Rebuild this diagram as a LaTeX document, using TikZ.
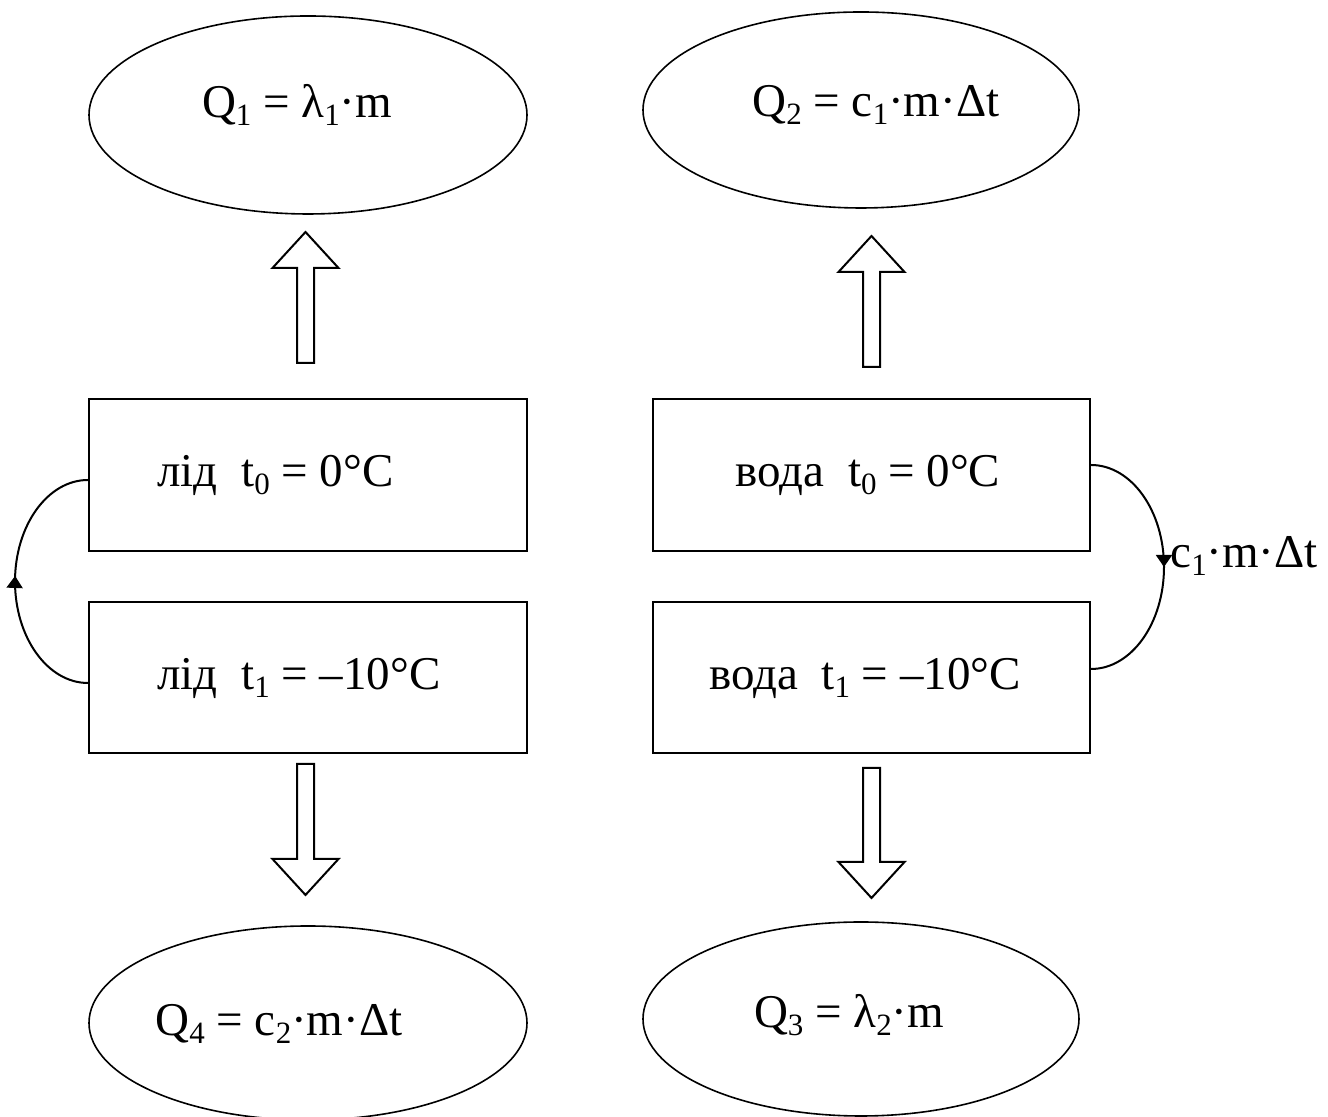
\documentclass[tikz,border=0pt]{standalone}
\usepackage{fontspec}
\setmainfont{Liberation Serif}
\usetikzlibrary{shapes.geometric,arrows.meta,decorations.markings}
\newcommand\subx[1]{\raisebox{-0.17em}{\fontsize{15.5}{16}\selectfont #1}}
\newcommand\blkarr[4]{% cx, ybase, yhead, ytip
  \draw[blk] (#1-8.5,#2) -- (#1-8.5,#3) -- (#1-33,#3) -- (#1,#4) -- (#1+33,#3) -- (#1+8.5,#3) -- (#1+8.5,#2) -- cycle;}
\begin{document}
\begin{tikzpicture}[x=0.5pt,y=0.5pt,
  font=\fontsize{23.5}{28}\selectfont,
  oval/.style={draw, ellipse, line width=0.8pt, inner sep=0pt},
  box/.style={draw, rectangle, line width=1pt, inner sep=0pt, minimum width=219pt, minimum height=76pt},
  txt/.style={inner sep=0pt, anchor=base},
  loopline/.style={line width=1pt, postaction={decorate}},
  blk/.style={draw, line width=1pt, line join=miter}]
\useasboundingbox (0,0) rectangle (1328,1117);
% ellipses
\node[oval, minimum width=219pt, minimum height=99pt] (e1) at (308,1002) {};
\node[oval, minimum width=218pt, minimum height=98pt] (e2) at (861,1007) {};
\node[oval, minimum width=219pt, minimum height=97pt] (e4) at (308,94) {};
\node[oval, minimum width=218pt, minimum height=97pt] (e3) at (861,98) {};
\node[txt] (q1) at (297,999) {Q\subx{1} = λ\subx{1}·m};
\node[txt] (q2) at (876,1000) {Q\subx{2} = c\subx{1}·m·Δt};
\node[txt] (q4) at (279,81) {Q\subx{4} = c\subx{2}·m·Δt};
\node[txt] (q3) at (849,89) {Q\subx{3} = λ\subx{2}·m};
% boxes
\node[box] (b1) at (308,642) {};
\node[box, minimum height=75.5pt] (b2) at (308,439.5) {};
\node[box, minimum width=218.5pt] (b3) at (871.5,642) {};
\node[box, minimum width=218.5pt, minimum height=75.5pt] (b4) at (871.5,439.5) {};
\node[txt, anchor=base west] (l1) at (157,630) {лід\hspace{0.5em}t\subx{0} = 0°C};
\node[txt, anchor=base west] (l2) at (157,427) {лід\hspace{0.5em}t\subx{1} = –10°C};
\node[txt] (l3) at (868,630) {вода\hspace{0.5em}t\subx{0} = 0°C};
\node[txt] (l4) at (865,427) {вода\hspace{0.5em}t\subx{1} = –10°C};
% loop arcs
\draw[loopline, decoration={markings, mark=at position 0.52 with {\arrow{Triangle[length=6pt,width=8pt]}}}]
  ([yshift=-2.75pt]b2.west) arc[start angle=270, end angle=90, x radius=36.5pt, y radius=50.75pt];
\draw[loopline, decoration={markings, mark=at position 0.5 with {\arrow{Triangle[length=6pt,width=8pt]}}}]
  ([yshift=5pt]b3.east) arc[start angle=90, end angle=-90, x radius=36.5pt, y radius=51pt];
\node[txt, anchor=base west] (lab) at (1170,549) {c\subx{1}·m·Δt};
% block arrows
\blkarr{305.5}{754}{849}{885}
\blkarr{871.5}{750}{845}{881}
\blkarr{305.5}{353}{258}{222}
\blkarr{871.5}{349}{255}{219}
\end{tikzpicture}
\end{document}
